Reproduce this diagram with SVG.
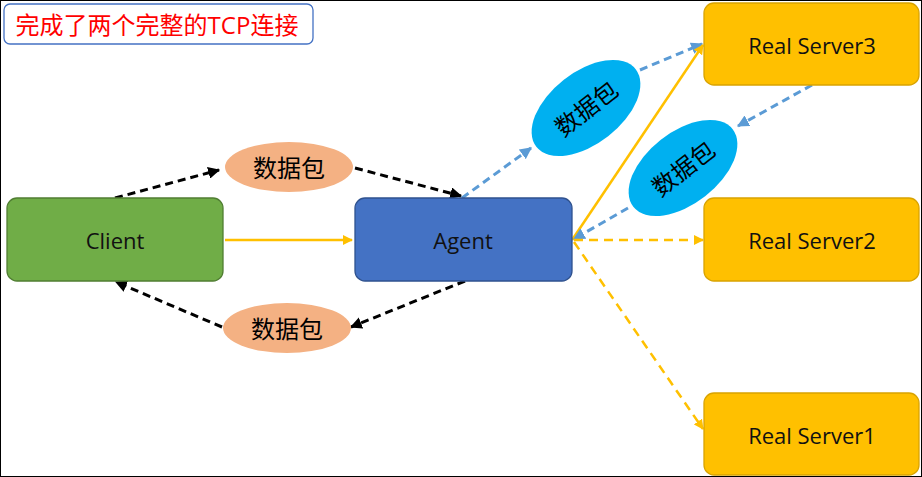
<svg xmlns="http://www.w3.org/2000/svg" width="922" height="477" viewBox="0 0 922 477">
<defs>
<style>
text{font-family:"Open Sans","Noto Sans CJK SC",sans-serif;text-anchor:middle;dominant-baseline:central}
.box{stroke-width:1.3}
.srv{fill:#FFC000;stroke:#D9A300}
.lbl{font-size:22px;fill:#111}
.blk{stroke:#000;stroke-width:3;stroke-dasharray:8,5;fill:none}
.blu{stroke:#5B9BD5;stroke-width:3;stroke-dasharray:8,5;fill:none}
.yel{stroke:#FFC000;stroke-width:2.5;fill:none}
.yeld{stroke:#FFC000;stroke-width:2.5;stroke-dasharray:9,6;fill:none}
</style>
<marker id="ak" viewBox="0 0 10 10" refX="9" refY="5" markerWidth="4" markerHeight="4" orient="auto"><path d="M0,0L10,5L0,10z" fill="#000"/></marker>
<marker id="ab" viewBox="0 0 10 10" refX="9" refY="5" markerWidth="4" markerHeight="4" orient="auto"><path d="M0,0L10,5L0,10z" fill="#5B9BD5"/></marker>
<marker id="ay" viewBox="0 0 10 10" refX="9" refY="5" markerWidth="4" markerHeight="4" orient="auto"><path d="M0,0L10,5L0,10z" fill="#FFC000"/></marker>
</defs>
<rect x="0.5" y="0.5" width="921" height="476" fill="#fff" stroke="#000"/>
<g id="title"><rect x="4" y="4" width="309" height="40" rx="6" fill="#fff" stroke="#4472C4" stroke-width="1.3"/><text x="157" y="24" font-size="24" fill="#FF0000">完成了两个完整的TCP连接</text></g>
<g id="connectors">
<path class="blk" d="M115,198L219,170" marker-end="url(#ak)"/>
<path class="blk" d="M355,168L461,196" marker-end="url(#ak)"/>
<path class="blk" d="M465,281L351,327" marker-end="url(#ak)"/>
<path class="blk" d="M222,327L116,282" marker-end="url(#ak)"/>
<path class="yel" d="M225,240L352,240" marker-end="url(#ay)"/>
<path class="blu" d="M462,198L531,148" marker-end="url(#ab)"/>
<path class="blu" d="M640,70L702,44" marker-end="url(#ab)"/>
<path class="yel" d="M572,240L703,45" marker-end="url(#ay)"/>
<path class="blu" d="M812,85L738,126" marker-end="url(#ab)"/>
<path class="blu" d="M628,208L574,239" marker-end="url(#ab)"/>
<path class="yeld" d="M574,240L703,240" marker-end="url(#ay)"/>
<path class="yeld" d="M574,242L703,429" marker-end="url(#ay)"/>
</g>
<g id="client"><rect class="box" x="7" y="198" width="216" height="83" rx="10" fill="#70AD47" stroke="#507E32"/><text class="lbl" x="115" y="240">Client</text></g>
<g id="agent"><rect class="box" x="355" y="198" width="217" height="83" rx="10" fill="#4472C4" stroke="#2F528F"/><text class="lbl" x="463" y="240">Agent</text></g>
<g id="rs3"><rect class="box srv" x="704" y="3" width="215" height="82" rx="10"/><text class="lbl" x="812" y="45">Real Server3</text></g>
<g id="rs2"><rect class="box srv" x="704" y="198" width="215" height="83" rx="10"/><text class="lbl" x="812" y="240">Real Server2</text></g>
<g id="rs1"><rect class="box srv" x="704" y="393" width="215" height="82" rx="10"/><text class="lbl" x="812" y="435">Real Server1</text></g>
<g id="pkt1"><ellipse cx="289" cy="167" rx="64" ry="25" fill="#F4B183"/><text x="289" y="167" font-size="24" fill="#000">数据包</text></g>
<g id="pkt2"><ellipse cx="287" cy="328" rx="64" ry="25" fill="#F4B183"/><text x="287" y="328" font-size="24" fill="#000">数据包</text></g>
<g id="pkt3" transform="translate(586,108) rotate(-38)"><ellipse rx="63" ry="36" fill="#00B0F0"/><text font-size="24" fill="#000">数据包</text></g>
<g id="pkt4" transform="translate(683,168) rotate(-38)"><ellipse rx="63" ry="36" fill="#00B0F0"/><text font-size="24" fill="#000">数据包</text></g>
</svg>
